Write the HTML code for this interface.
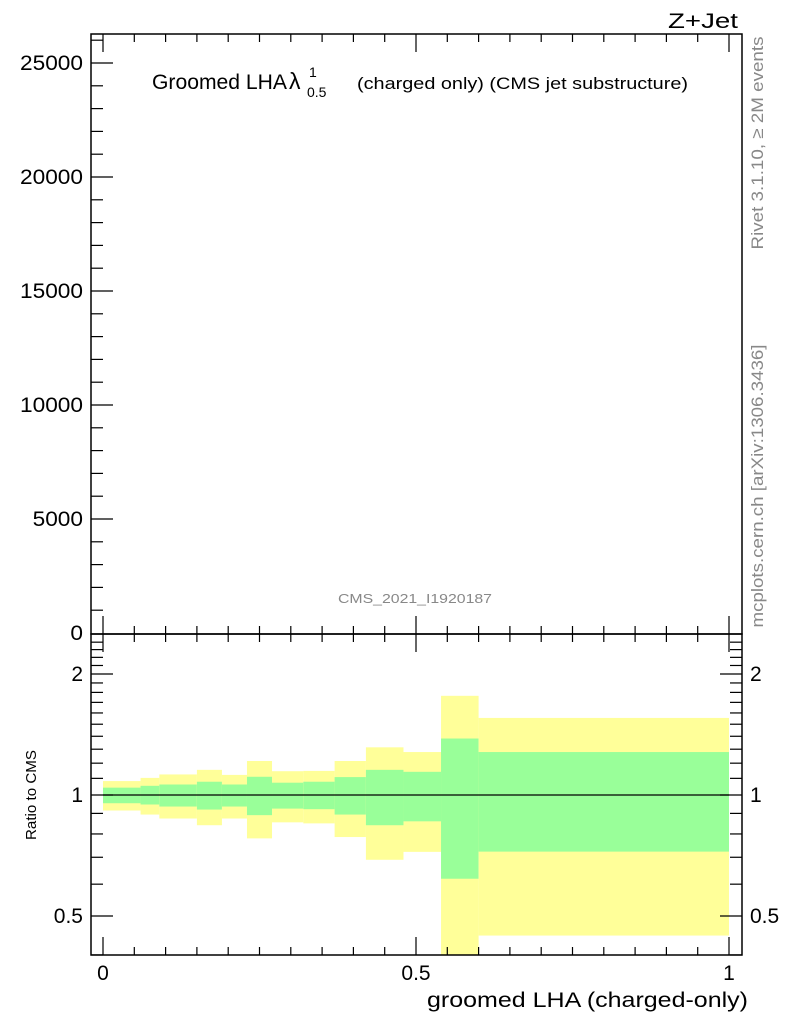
<!DOCTYPE html>
<html><head><meta charset="utf-8"><style>
body{margin:0;background:#fff}
svg{display:block;font-family:"Liberation Sans",sans-serif}
</style></head><body>
<svg id="c" width="786" height="1024" viewBox="0 0 786 1024">
<g id="bands"></g>
<g id="axes"></g>
<text x="668" y="28" font-size="21" textLength="70" lengthAdjust="spacingAndGlyphs">Z+Jet</text>
<g>
<text x="152" y="89" font-size="21" textLength="135" lengthAdjust="spacingAndGlyphs">Groomed LHA</text>
<text x="289" y="89" font-size="23">λ</text>
<text x="307" y="97" font-size="14">0.5</text>
<text x="309" y="77" font-size="14">1</text>
<text x="357" y="89" font-size="17" textLength="331" lengthAdjust="spacingAndGlyphs">(charged only) (CMS jet substructure)</text>
</g>
<text x="415" y="603" font-size="13" fill="#888" text-anchor="middle" textLength="154" lengthAdjust="spacingAndGlyphs">CMS_2021_I1920187</text>
<text transform="translate(763,143) rotate(-90)" font-size="17" fill="#888" text-anchor="middle" textLength="213" lengthAdjust="spacingAndGlyphs">Rivet 3.1.10, ≥ 2M events</text>
<text transform="translate(763,486) rotate(-90)" font-size="17" fill="#888" text-anchor="middle" textLength="283" lengthAdjust="spacingAndGlyphs">mcplots.cern.ch [arXiv:1306.3436]</text>
<text transform="translate(36,795) rotate(-90)" font-size="15" text-anchor="middle" textLength="90" lengthAdjust="spacingAndGlyphs">Ratio to CMS</text>
<text x="427" y="1007" font-size="21" textLength="321" lengthAdjust="spacingAndGlyphs">groomed LHA (charged-only)</text>
</svg>
<script>
const binEdges=[0,0.06,0.09,0.15,0.19,0.23,0.27,0.32,0.37,0.42,0.48,0.54,0.6,1.0];
const yellowHi=[1.083,1.103,1.125,1.155,1.122,1.215,1.146,1.148,1.215,1.314,1.279,1.765,1.555];
const greenHi=[1.043,1.054,1.062,1.079,1.062,1.110,1.073,1.079,1.108,1.155,1.142,1.382,1.279];
const greenLo=[0.954,0.947,0.936,0.920,0.936,0.891,0.925,0.922,0.894,0.841,0.860,0.619,0.723];
const yellowLo=[0.915,0.894,0.874,0.841,0.874,0.780,0.855,0.850,0.786,0.690,0.722,0.3,0.447];
const mainTicks=[0,5000,10000,15000,20000,25000];
const ratioTicks=[0.5,1,2];
const xTicks=[0,0.5,1];
const NS="http://www.w3.org/2000/svg";
const L=91,R=742,T=34,MB=634,RB=955;
const X0=103,X1=729;
function sx(v){return X0+(X1-X0)*v;}
function syMain(v){return 633-v*(114/5000);}
function syR(v){return 795-121*Math.log2(v);}
function mk(tag,at,parent){const e=document.createElementNS(NS,tag);for(const k in at)e.setAttribute(k,at[k]);parent.appendChild(e);return e;}
const bands=document.getElementById('bands'),axes=document.getElementById('axes');
function clampR(y){return Math.max(MB,Math.min(RB,y));}
for(let i=0;i<binEdges.length-1;i++){
  const x=sx(binEdges[i]),w=sx(binEdges[i+1])-x;
  const y1=clampR(syR(yellowHi[i])),y2=clampR(syR(yellowLo[i]));
  const r=mk('rect',{x:x,y:y1,width:w,height:y2-y1,fill:'#ffff99'},bands);
  
  
  const g1=clampR(syR(greenHi[i])),g2=clampR(syR(greenLo[i]));
  const g=mk('rect',{x:x,y:g1,width:w,height:g2-g1,fill:'#99ff99'},bands);
  
  
}
const ln=(x1,y1,x2,y2,w)=>mk('line',{x1,y1,x2,y2,stroke:'#000','stroke-width':w||1},axes);
ln(X0,syR(1),X1,syR(1),1.2);
mk('rect',{x:L,y:T,width:R-L,height:MB-T,fill:'none',stroke:'#000','stroke-width':1.5},axes);
mk('rect',{x:L,y:MB,width:R-L,height:RB-MB,fill:'none',stroke:'#000','stroke-width':1.5},axes);
for(let v=1000;v<=26000;v+=1000){const y=syMain(v);if(y<T)continue;const maj=v%5000===0;ln(L,y,L+(maj?22:12),y,1.2);}
mainTicks.forEach(v=>{const s=String(v);const t=mk('text',{x:L-8,y:syMain(v)+7,'font-size':21,'text-anchor':'end',textLength:s.length*12.6,lengthAdjust:'spacingAndGlyphs'},axes);t.textContent=s;});
for(let k=0;k<=20;k++){const v=k*0.05,x=sx(v);const maj=k%10===0;const len=maj?18:8;
 ln(x,T,x,T+len,1.2);ln(x,MB,x,MB-len,1.2);ln(x,MB,x,MB+len,1.2);ln(x,RB,x,RB-len,1.2);}
xTicks.forEach(v=>{const t=mk('text',{x:sx(v),y:980,'font-size':21,'text-anchor':'middle'},axes);t.textContent=v;});
const rminor=[0.4,0.5,0.6,0.7,0.8,0.9,1,1.1,1.2,1.3,1.4,1.5,1.6,1.7,1.8,1.9,2,2.1,2.2,2.3,2.4];
rminor.forEach(v=>{const y=syR(v);if(y<MB||y>RB)return;const maj=ratioTicks.includes(v);const len=maj?22:12;ln(L,y,L+len,y,1.2);ln(R,y,R-len,y,1.2);});
ratioTicks.forEach(v=>{const t=mk('text',{x:L-8,y:syR(v)+7,'font-size':21,'text-anchor':'end'},axes);t.textContent=v;
 const t2=mk('text',{x:R+8,y:syR(v)+7,'font-size':21,'text-anchor':'start'},axes);t2.textContent=v;});
</script>
</body></html>
